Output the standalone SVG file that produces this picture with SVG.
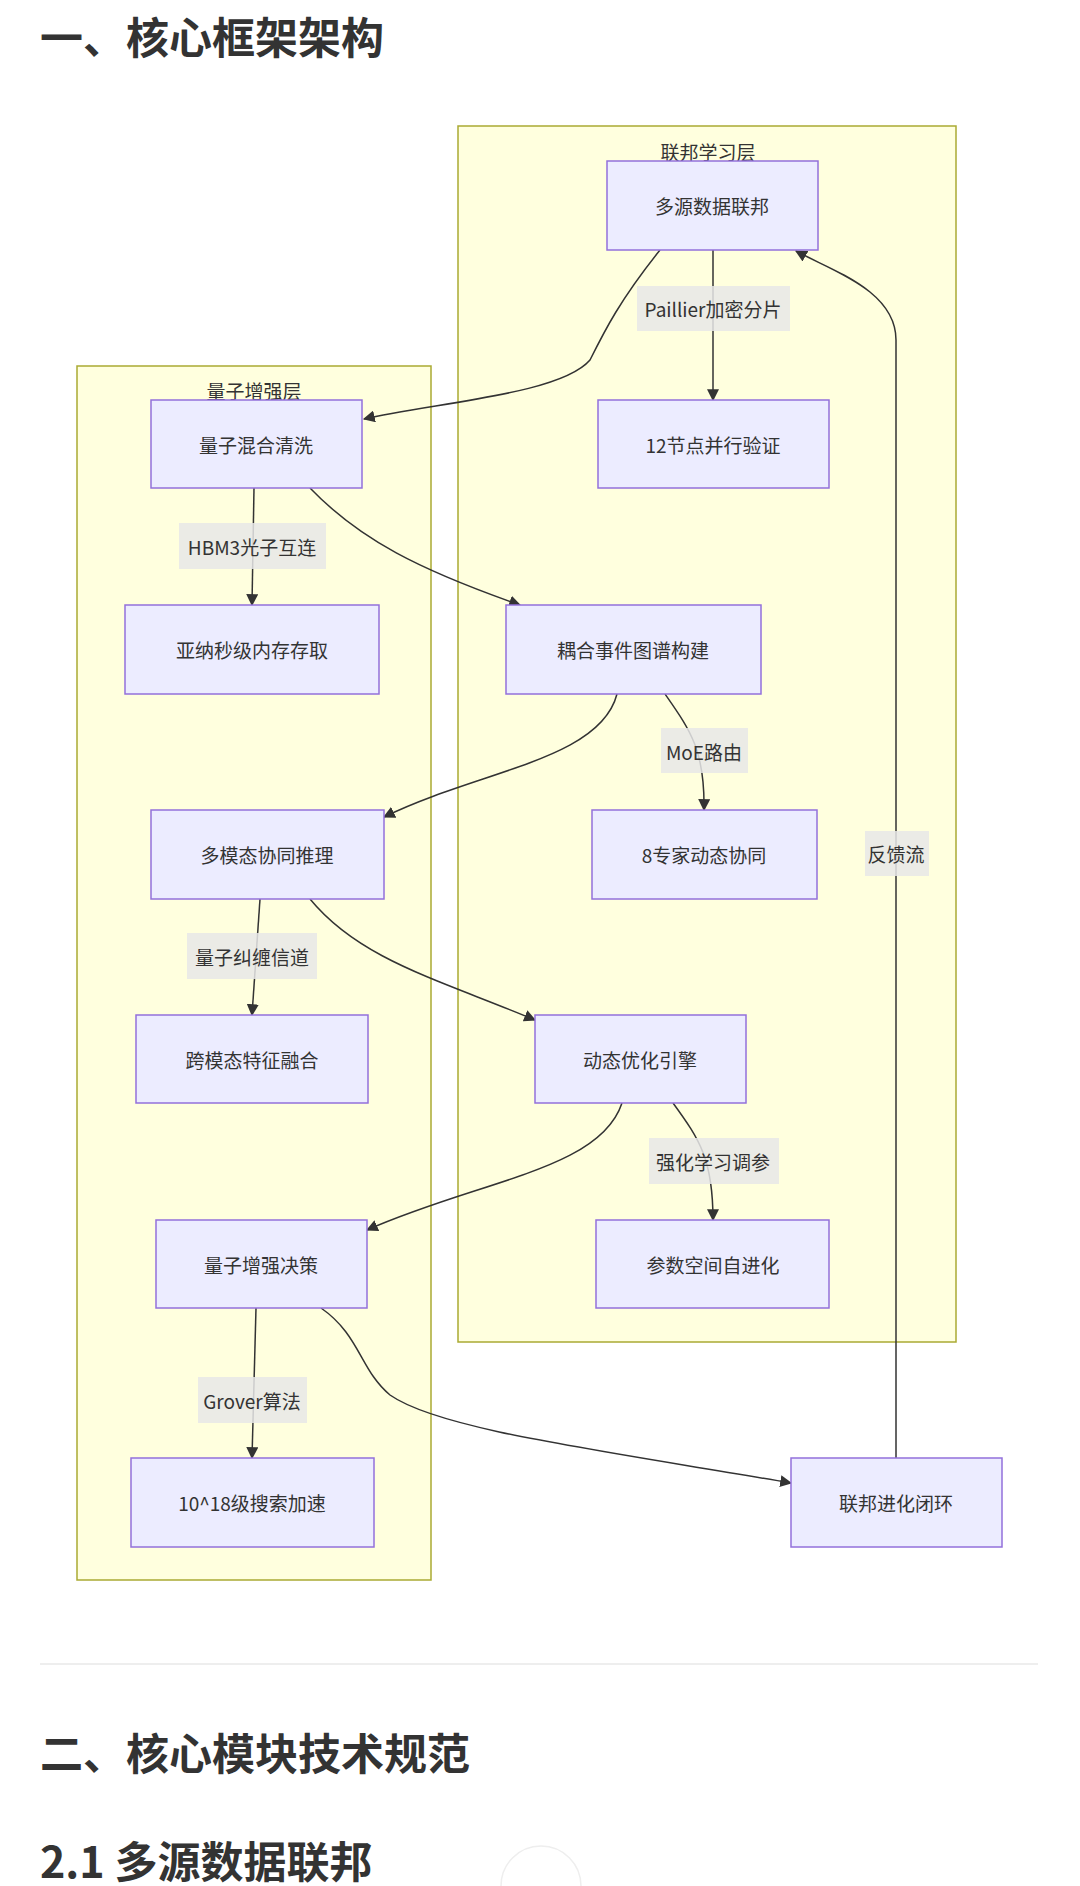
<svg xmlns="http://www.w3.org/2000/svg" width="1080" height="1886" viewBox="0 0 1080 1886">
<style>
.h{font-weight:bold;font-size:43px;fill:#333;font-family:"Noto Sans CJK SC","Noto Sans",sans-serif}
.cl{fill:#ffffde;stroke:#aaaa33;stroke-width:1.5}
.n rect{fill:#ececff;stroke:#9370db;stroke-width:1.5}
.n text,.cltxt,.el text{font-family:"Noto Sans CJK SC","Noto Sans",sans-serif;font-size:19px;fill:#333;text-anchor:middle;dominant-baseline:central}
.el rect{fill:#e8e8e8;opacity:0.85}
.e path{fill:none;stroke:#333;stroke-width:1.5;marker-end:url(#a)}
</style>
<defs><marker id="a" viewBox="0 0 10 10" refX="9" refY="5" markerWidth="8" markerHeight="8" orient="auto-start-reverse"><path d="M0,0L10,5L0,10z" fill="#333"/></marker></defs>
<rect width="1080" height="1886" fill="#fff"/>
<text class="h" x="40" y="54">一、核心框架架构</text>
<g id="clusters">
<rect class="cl" x="458" y="126" width="498" height="1216"/>
<text class="cltxt" x="708" y="151">联邦学习层</text>
<rect class="cl" x="77" y="366" width="354" height="1214"/>
<text class="cltxt" x="254" y="390">量子增强层</text>
</g>
<g id="connectors" class="e">
<path d="M660,250 C620,300 605,330 590,360 C560,395 430,403 364,419"/>
<path d="M713,250 L713,400"/>
<path d="M254,488 L252,605"/>
<path d="M310,488 C360,540 420,570 520,605"/>
<path d="M617,694 C600,760 480,770 384,817"/>
<path d="M665,694 C690,730 705,750 704,810"/>
<path d="M260,899 L252,1015"/>
<path d="M310,899 C360,960 440,980 535,1020"/>
<path d="M622,1103 C600,1170 480,1180 367,1230"/>
<path d="M673,1103 C700,1140 713,1160 713,1220"/>
<path d="M256,1308 L252,1458"/>
<path d="M321,1308 C360,1335 360,1370 390,1395 C440,1430 600,1450 791,1483"/>
<path d="M896,1458 L896,340 C896,290 830,270 796,251"/>
</g>
<g id="edge-labels" class="el">
<rect x="637" y="286" width="153" height="45"/><text x="713" y="308">Paillier加密分片</text>
<rect x="179" y="523" width="147" height="46"/><text x="252" y="546">HBM3光子互连</text>
<rect x="661" y="728" width="87" height="45"/><text x="704" y="751">MoE路由</text>
<rect x="187" y="933" width="130" height="46"/><text x="252" y="956">量子纠缠信道</text>
<rect x="649" y="1138" width="130" height="46"/><text x="713" y="1161">强化学习调参</text>
<rect x="198" y="1377" width="109" height="46"/><text x="252" y="1400">Grover算法</text>
<rect x="865" y="831" width="64" height="45"/><text x="896" y="853">反馈流</text>
</g>
<g id="n1" class="n"><rect x="607" y="161" width="211" height="89"/><text x="712" y="205">多源数据联邦</text></g>
<g id="n2" class="n"><rect x="598" y="400" width="231" height="88"/><text x="713" y="444">12节点并行验证</text></g>
<g id="n3" class="n"><rect x="151" y="400" width="211" height="88"/><text x="256" y="444">量子混合清洗</text></g>
<g id="n4" class="n"><rect x="125" y="605" width="254" height="89"/><text x="252" y="649">亚纳秒级内存存取</text></g>
<g id="n5" class="n"><rect x="506" y="605" width="255" height="89"/><text x="633" y="649">耦合事件图谱构建</text></g>
<g id="n6" class="n"><rect x="151" y="810" width="233" height="89"/><text x="267" y="854">多模态协同推理</text></g>
<g id="n7" class="n"><rect x="592" y="810" width="225" height="89"/><text x="704" y="854">8专家动态协同</text></g>
<g id="n8" class="n"><rect x="136" y="1015" width="232" height="88"/><text x="252" y="1059">跨模态特征融合</text></g>
<g id="n9" class="n"><rect x="535" y="1015" width="211" height="88"/><text x="640" y="1059">动态优化引擎</text></g>
<g id="n10" class="n"><rect x="156" y="1220" width="211" height="88"/><text x="261" y="1264">量子增强决策</text></g>
<g id="n11" class="n"><rect x="596" y="1220" width="233" height="88"/><text x="713" y="1264">参数空间自进化</text></g>
<g id="n12" class="n"><rect x="131" y="1458" width="243" height="89"/><text x="252" y="1502">10^18级搜索加速</text></g>
<g id="n13" class="n"><rect x="791" y="1458" width="211" height="89"/><text x="896" y="1502">联邦进化闭环</text></g>
<line x1="40" y1="1664" x2="1038" y2="1664" stroke="#eee" stroke-width="2"/>
<text class="h" x="40" y="1770">二、核心模块技术规范</text>
<text class="h" x="40" y="1878">2.1 多源数据联邦</text>
<circle cx="541" cy="1886" r="40" fill="#fff" stroke="#eee" stroke-width="1.5"/>
</svg>
